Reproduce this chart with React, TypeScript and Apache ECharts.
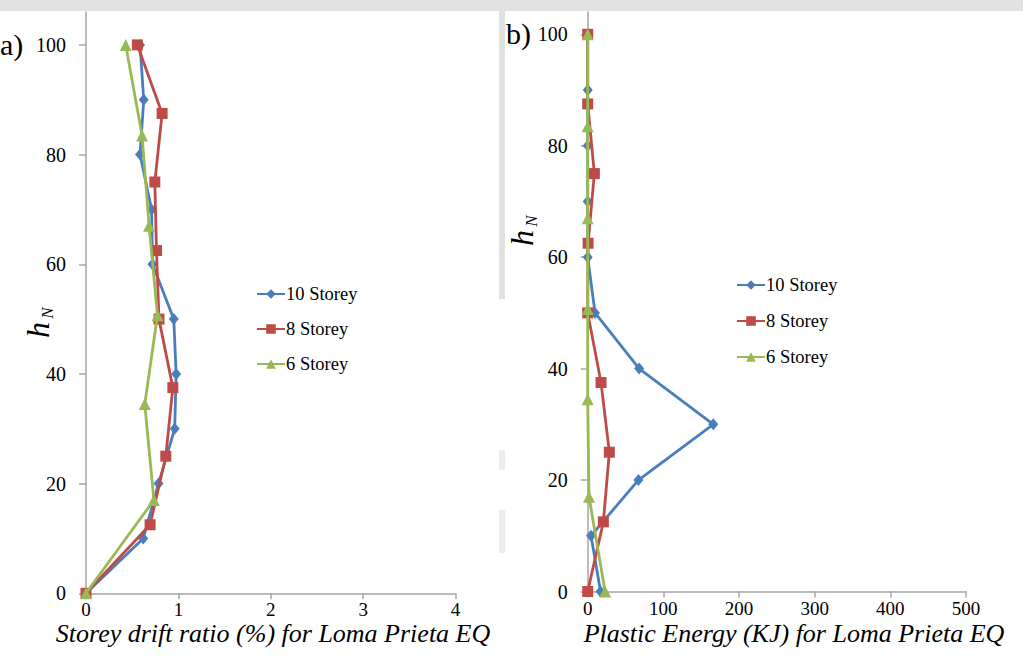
import React, { useEffect, useRef } from "react";
import * as echarts from "echarts";

const seriesNames = ["10 Storey", "8 Storey", "6 Storey"];
const heights10 = [0, 10, 20, 30, 40, 50, 60, 70, 80, 90, 100];
const heights8 = [0, 12.5, 25, 37.5, 50, 62.5, 75, 87.5, 100];
const heights6 = [0, 17, 34.5, 50.7, 67, 83.5, 100];

const drift10 = [0, 0.62, 0.785, 0.96, 0.976, 0.95, 0.72, 0.71, 0.585, 0.625, 0.585];
const drift8 = [0, 0.694, 0.864, 0.94, 0.79, 0.763, 0.745, 0.824, 0.556];
const drift6 = [0, 0.735, 0.636, 0.774, 0.683, 0.607, 0.43];

const energy10 = [17, 4.4, 67, 166, 68, 9.7, 0, 0, 0, 0, 0];
const energy8 = [0, 20.7, 28.6, 17.6, 0, 0.5, 8.8, 0, 0];
const energy6 = [23, 1.7, 0, 0, 0, 0, 0];

const yTicks = [0, 20, 40, 60, 80, 100];

const colors = ["#4A7EBB", "#BE4B48", "#98B954"];
const symbols = ["diamond", "rect", "triangle"];
const symbolSizes: any[] = [[10, 12], 11, 12];

const zip = (xs: number[], ys: number[]) => xs.map((x, i) => [x, ys[i]]);

const FONT = "'Liberation Serif', 'Times New Roman', serif";

export default function App() {
  const ref = useRef<HTMLDivElement>(null);
  useEffect(() => {
    if (!ref.current) return;
    const chart = echarts.init(ref.current, undefined, { renderer: "svg" });
    const axisLine = { show: true, lineStyle: { color: "#A6A6A6", width: 1.5 } };
    const axisLabelBase = { color: "#000", fontFamily: FONT, fontSize: 20 };
    const mkX = (gridIndex: number, max: number, interval: number) => ({
      type: "value",
      gridIndex,
      min: 0,
      max,
      interval,
      axisLine,
      axisTick: { show: true, length: 6, lineStyle: { color: "#A6A6A6", width: 1.5 } },
      splitLine: { show: false },
      axisLabel: { ...axisLabelBase, fontSize: 19, margin: 7, lineHeight: 19 },
    });
    const mkY = (gridIndex: number, max: number) => ({
      type: "value",
      gridIndex,
      min: 0,
      max,
      interval: 20,
      axisLine,
      axisTick: { show: true, length: 7, customValues: yTicks, lineStyle: { color: "#A6A6A6", width: 1.5 } },
      splitLine: { show: false },
      axisLabel: {
        ...axisLabelBase,
        margin: 20,
        customValues: yTicks,
        formatter: (v: number) => (v % 20 === 0 && v <= 100 ? String(v) : ""),
      },
    });
    const sets = [
      [zip(drift10, heights10), zip(drift8, heights8), zip(drift6, heights6)],
      [zip(energy10, heights10), zip(energy8, heights8), zip(energy6, heights6)],
    ];
    const series: any[] = [];
    sets.forEach((group, gi) => {
      group.forEach((data, si) => {
        series.push({
          type: "line",
          name: seriesNames[si],
          xAxisIndex: gi,
          yAxisIndex: gi,
          data,
          symbol: symbols[si],
          symbolSize: symbolSizes[si],
          showAllSymbol: true,
          lineStyle: { color: colors[si], width: 2.8 },
          itemStyle: { color: colors[si] },
          z: 2 + si,
        });
      });
    });
    const legendBase = {
      orient: "vertical",
      itemWidth: 28,
      itemHeight: 12,
      itemGap: 15,
      data: seriesNames,
      textStyle: { color: "#000", fontFamily: FONT, fontSize: 18.5, lineHeight: 20, padding: [0, 0, 0, -4] },
      selectedMode: false,
    };
    const option: any = {
      animation: false,
      backgroundColor: "#fff",
      grid: [
        { left: 86, top: 12, width: 369.5, height: 581.3 },
        { left: 587.7, top: 12, width: 378.3, height: 579.5 },
      ],
      xAxis: [mkX(0, 4, 1), mkX(1, 500, 100)],
      yAxis: [mkY(0, 106), mkY(1, 104)],
      legend: [
        { ...legendBase, left: 251, top: 279 },
        { ...legendBase, left: 731, top: 270, itemGap: 16 },
      ],
      series,
      graphic: [
        { type: "rect", shape: { x: 0, y: 0, width: 1023, height: 11 }, style: { fill: "#E2E2E2" }, silent: true },
        { type: "rect", shape: { x: 499, y: 11, width: 6, height: 288 }, style: { fill: "#E2E2E2" }, silent: true },
        { type: "rect", shape: { x: 499, y: 450, width: 6, height: 20 }, style: { fill: "#ECECEC" }, silent: true },
        { type: "rect", shape: { x: 499, y: 510, width: 6, height: 43 }, style: { fill: "#ECECEC" }, silent: true },
        { type: "text", left: 0, top: 29, style: { text: "a)", font: `30px ${FONT}`, fill: "#000" } },
        { type: "text", left: 506, top: 18, style: { text: "b)", font: `30px ${FONT}`, fill: "#000" } },
        {
          type: "text", x: 273, y: 633,
          style: { text: "Storey drift ratio (%) for Loma Prieta EQ", font: `italic 26px ${FONT}`, fill: "#000", align: "center", verticalAlign: "middle" },
        },
        {
          type: "text", x: 794, y: 633,
          style: { text: "Plastic Energy (KJ) for Loma Prieta EQ", font: `italic 26px ${FONT}`, fill: "#000", align: "center", verticalAlign: "middle" },
        },
        { type: "text", x: 38, y: 330, rotation: Math.PI / 2, style: { text: "h", font: `italic 32px ${FONT}`, fill: "#000", align: "center", verticalAlign: "middle" } },
        { type: "text", x: 47, y: 313, rotation: Math.PI / 2, style: { text: "N", font: `italic 17px ${FONT}`, fill: "#000", align: "center", verticalAlign: "middle" } },
        { type: "text", x: 522, y: 238, rotation: Math.PI / 2, style: { text: "h", font: `italic 32px ${FONT}`, fill: "#000", align: "center", verticalAlign: "middle" } },
        { type: "text", x: 531, y: 221, rotation: Math.PI / 2, style: { text: "N", font: `italic 17px ${FONT}`, fill: "#000", align: "center", verticalAlign: "middle" } },
      ],
    };
    chart.setOption(option);
    return () => chart.dispose();
  }, []);
  return (
    <div
      ref={ref}
      style={{ position: "fixed", left: 0, top: 0, width: 1023, height: 669, background: "#fff" }}
    />
  );
}
